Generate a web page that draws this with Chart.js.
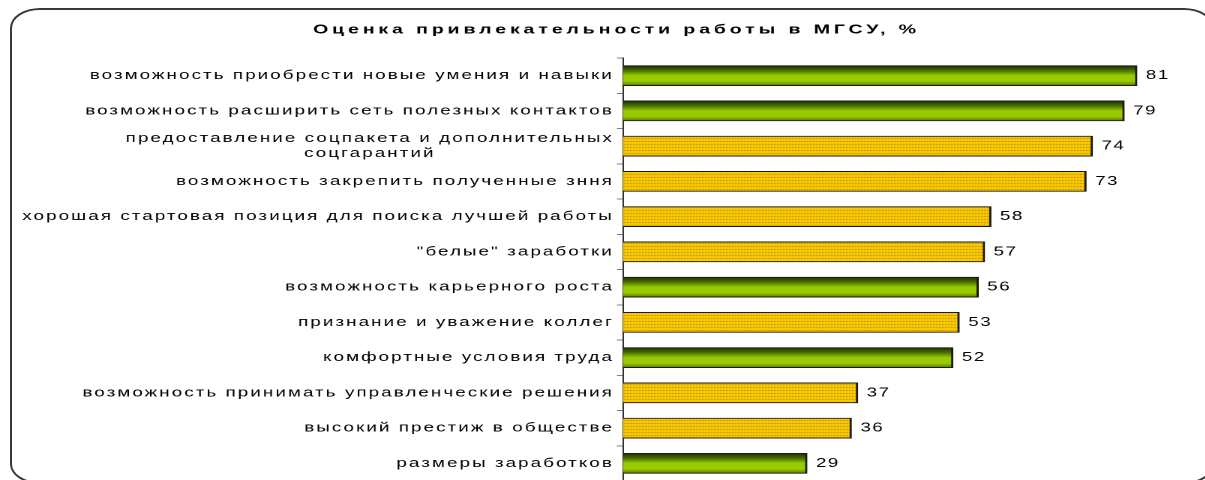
<!DOCTYPE html>
<html>
<head>
<meta charset="utf-8">
<script src="https://cdn.jsdelivr.net/npm/chart.js@4.4.0/dist/chart.umd.min.js"></script>
<style>
html, body { margin: 0; padding: 0; background: #fff; overflow: hidden; width: 1205px; height: 480px; }
#frame { position: absolute; left: 10px; top: 8px; width: 1204px; height: 476px; box-sizing: border-box;
         border: 2px solid #3a3a3a; border-radius: 30px / 20px; }
#wrap { position: absolute; left: 0; top: 0; width: 803px; height: 481px; transform: scaleX(1.5); transform-origin: 0 0; }
</style>
</head>
<body>
<div id="frame"></div>
<div id="wrap"><canvas id="c" width="803" height="481"></canvas></div>
<script>
// the original picture is stretched sideways, so the canvas is drawn narrow and scaled by 1.5
const titleText = 'Оценка привлекательности работы в МГСУ, %'
const categories = [
    'возможность приобрести новые умения и навыки',
    'возможность расширить сеть полезных контактов',
    ['предоставление соцпакета и дополнительных', 'соцгарантий'],
    'возможность закрепить полученные зння',
    'хорошая стартовая позиция для поиска лучшей работы',
    '"белые" заработки',
    'возможность карьерного роста',
    'признание и уважение коллег',
    'комфортные условия труда',
    'возможность принимать управленческие решения',
    'высокий престиж в обществе',
    'размеры заработков'
]
const values = [81, 79, 74, 73, 58, 57, 56, 53, 52, 37, 36, 29]
const fillTypes = ['green', 'green', 'yellow', 'yellow', 'yellow', 'yellow', 'green', 'yellow', 'green', 'yellow', 'yellow', 'green']
const xMax = 90

const padLeft = 26
const axisX = 415.3

let dots = null
function yellowPattern(c) {
    if (!dots) {
        const tile = document.createElement('canvas')
        tile.width = 2
        tile.height = 3
        const t = tile.getContext('2d')
        t.fillStyle = '#ffcc00'
        t.fillRect(0, 0, 2, 3)
        t.fillStyle = '#9a7a10'
        t.fillRect(0, 0, 1, 1)
        dots = c.createPattern(tile, 'repeat')
    }
    return dots
}

function barFill(ctx) {
    const chart = ctx.chart
    if (ctx.type !== 'data' || !chart.scales.y) return '#99cc00'
    if (fillTypes[ctx.dataIndex] === 'yellow') return yellowPattern(chart.ctx)
    const yc = chart.scales.y.getPixelForValue(ctx.dataIndex)
    if (!isFinite(yc)) return '#99cc00'
    const g = chart.ctx.createLinearGradient(0, yc - 10, 0, yc + 10)
    g.addColorStop(0, '#1c3000')
    g.addColorStop(0.25, '#4a7000')
    g.addColorStop(0.5, '#99cc00')
    g.addColorStop(0.78, '#99cc00')
    g.addColorStop(1, '#557a00')
    return g
}

const textPlugin = {
    id: 'textPlugin',
    beforeDraw(chart) {
        chart.ctx.letterSpacing = '2.6px'
    },
    afterDraw(chart) {
        const c = chart.ctx
        const ys = chart.scales.y
        const xs = chart.scales.x
        c.save()
        c.fillStyle = '#000'
        c.font = '12.5px Arial, "Liberation Sans"'
        c.textBaseline = 'middle'
        categories.forEach((lab, i) => {
            const yc = ys.getPixelForValue(i)
            const lines = Array.isArray(lab) ? lab : [lab]
            c.letterSpacing = '1.4px'
            const widest = Math.max(...lines.map(l => c.measureText(l).width))
            const cx = axisX - 6 - widest / 2
            c.textAlign = 'center'
            lines.forEach((l, k) => {
                c.fillText(l, cx, yc + (k - (lines.length - 1) / 2) * 15)
            })
            c.letterSpacing = '1px'
            c.textAlign = 'left'
            c.fillText(String(values[i]), xs.getPixelForValue(values[i]) + 6, yc)
        })
        c.restore()
    }
}

const chart = new Chart(document.getElementById('c'), {
    type: 'bar',
    data: {
        labels: categories,
        datasets: [{
            data: values,
            backgroundColor: barFill,
            borderColor: '#1a1a1a',
            borderWidth: { top: 1, bottom: 1, right: 1.5, left: 0 },
            borderSkipped: 'start',
            barThickness: 20
        }]
    },
    options: {
        indexAxis: 'y',
        responsive: false,
        animation: false,
        devicePixelRatio: 2,
        layout: { padding: { left: padLeft, right: 7, top: 0, bottom: 0 } },
        plugins: {
            legend: { display: false },
            tooltip: { enabled: false },
            title: {
                display: true,
                text: titleText,
                color: '#000',
                font: { family: 'Arial, "Liberation Sans"', size: 13, weight: 'bold' },
                padding: { top: 22, bottom: 20.4 }
            }
        },
        scales: {
            x: { display: false, min: 0, max: xMax },
            y: {
                afterFit(s) { s.width = axisX - padLeft },
                ticks: { display: false },
                grid: { drawOnChartArea: false, drawTicks: true, tickLength: 4, color: '#808080' },
                border: { color: '#333', width: 1 }
            }
        }
    },
    plugins: [textPlugin]
})
// second pass so the gradients see the finished scale
chart.update()
</script>
</body>
</html>
